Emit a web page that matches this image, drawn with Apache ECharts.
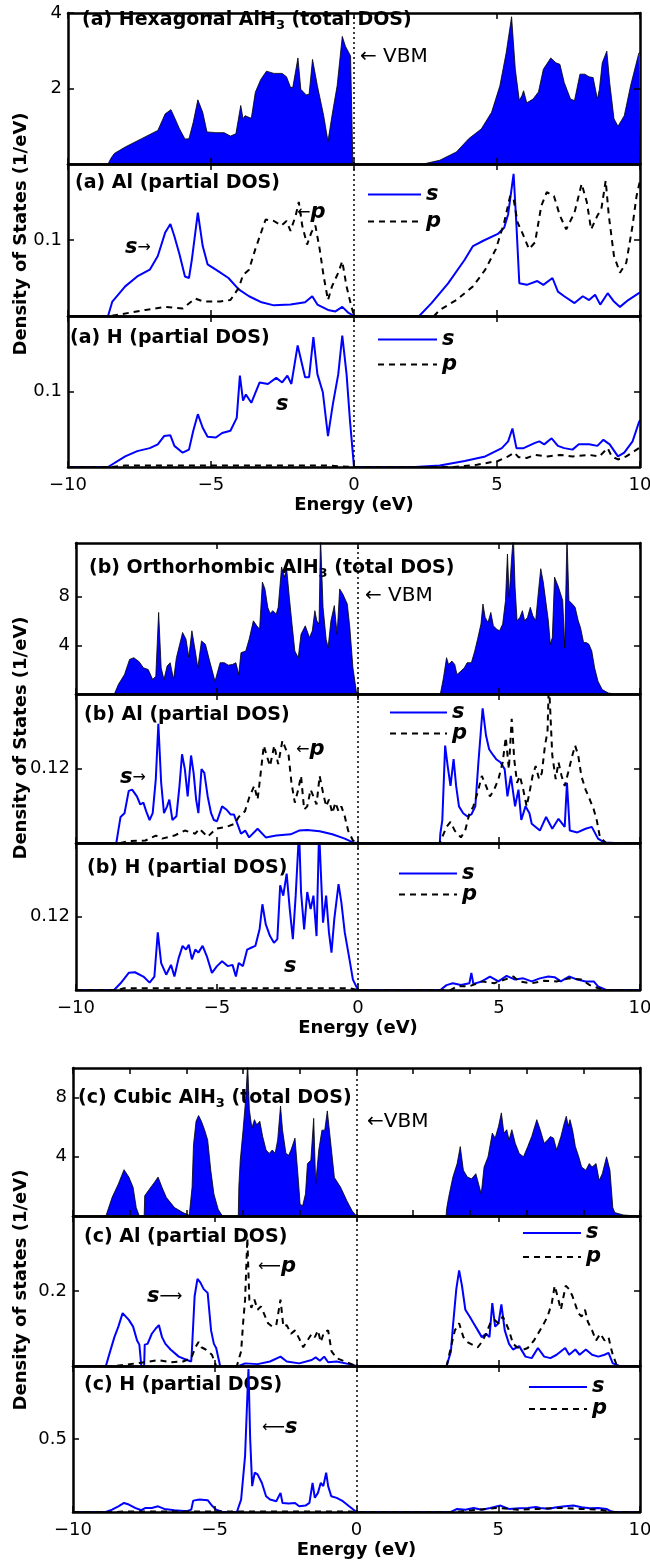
<!DOCTYPE html>
<html>
<head>
<meta charset="utf-8">
<title>AlH3 density of states</title>
<script src="https://cdn.jsdelivr.net/npm/echarts@6/dist/echarts.min.js"></script>
<style>
  html, body { margin: 0; background: #fff; }
  #chart { width: 650px; height: 1566px; }
</style>
</head>
<body>
<div id="chart"></div>
<script>
// [energy (eV), DOS] pairs

// (a) hexagonal
const hexTotal = [[-10,0],[-8.6,0],[-8.5,0.15],[-8.38,0.28],[-8.0,0.45],[-7.43,0.67],[-6.86,0.89],[-6.6,1.33],[-6.4,1.44],[-6.28,1.24],[-6.1,0.93],[-5.91,0.66],[-5.77,0.67],[-5.62,1.11],[-5.46,1.70],[-5.29,1.37],[-5.14,0.85],[-4.83,0.83],[-4.54,0.83],[-4.32,0.74],[-4.13,0.80],[-3.96,1.55],[-3.88,1.20],[-3.81,1.28],[-3.59,1.21],[-3.45,1.90],[-3.26,2.24],[-3.06,2.46],[-2.80,2.40],[-2.51,2.40],[-2.36,2.31],[-2.22,2.03],[-2.14,2.03],[-1.96,2.81],[-1.86,1.98],[-1.67,1.83],[-1.57,1.85],[-1.45,2.77],[-1.28,2.07],[-1.06,1.28],[-0.91,0.60],[-0.77,1.28],[-0.59,2.07],[-0.41,3.38],[-0.30,3.12],[-0.12,2.86],[-0.04,0],[2.42,0],[3.0,0.1],[3.58,0.32],[4.01,0.67],[4.45,0.93],[4.81,1.37],[5.10,2.07],[5.32,2.94],[5.51,3.90],[5.64,2.51],[5.78,1.68],[5.87,1.81],[5.93,1.94],[6.04,1.62],[6.26,1.72],[6.45,1.91],[6.62,2.51],[6.88,2.81],[7.06,2.68],[7.20,2.64],[7.35,2.16],[7.57,1.72],[7.71,1.68],[7.90,2.38],[8.07,2.38],[8.22,2.31],[8.36,2.29],[8.51,1.72],[8.58,1.98],[8.68,2.68],[8.84,2.99],[8.94,2.16],[9.09,1.20],[9.23,1.00],[9.45,1.28],[9.67,2.07],[9.96,2.94],[10,2.95]];
const hexAlS = [[-10,0],[-8.6,0],[-8.45,0.019],[-8.0,0.039],[-7.58,0.052],[-7.14,0.061],[-6.86,0.079],[-6.6,0.110],[-6.42,0.121],[-6.28,0.105],[-6.1,0.081],[-5.91,0.052],[-5.77,0.050],[-5.67,0.074],[-5.46,0.136],[-5.29,0.092],[-5.12,0.068],[-4.75,0.059],[-4.39,0.050],[-4.03,0.035],[-3.67,0.026],[-3.23,0.018],[-2.80,0.014],[-2.22,0.015],[-1.71,0.018],[-1.46,0.026],[-1.28,0.015],[-0.91,0.008],[-0.65,0.006],[-0.41,0.012],[-0.19,0.004],[0,0],[2.28,0],[2.71,0.017],[3.29,0.043],[3.87,0.074],[4.16,0.092],[4.52,0.099],[5.03,0.108],[5.25,0.116],[5.39,0.134],[5.58,0.187],[5.68,0.119],[5.78,0.043],[6.04,0.041],[6.41,0.046],[6.62,0.041],[6.94,0.050],[7.13,0.032],[7.35,0.026],[7.71,0.017],[8.0,0.026],[8.22,0.021],[8.43,0.028],[8.61,0.015],[8.87,0.030],[9.09,0.019],[9.30,0.012],[9.59,0.021],[9.96,0.030],[10,0.031]];
const hexAlP = [[-10,0],[-8.5,0],[-7.29,0.008],[-6.57,0.012],[-5.99,0.010],[-5.55,0.023],[-5.26,0.019],[-4.68,0.019],[-4.32,0.021],[-4.03,0.037],[-3.88,0.054],[-3.67,0.061],[-3.45,0.088],[-3.09,0.127],[-2.80,0.125],[-2.54,0.119],[-2.36,0.125],[-2.22,0.112],[-2.04,0.132],[-1.93,0.150],[-1.81,0.119],[-1.64,0.094],[-1.49,0.110],[-1.35,0.119],[-1.20,0.088],[-1.06,0.052],[-0.91,0.021],[-0.77,0.039],[-0.55,0.057],[-0.41,0.072],[-0.26,0.039],[-0.12,0.017],[0,0],[2.8,0],[3.0,0.008],[3.58,0.021],[4.16,0.039],[4.59,0.061],[4.96,0.088],[5.25,0.123],[5.46,0.158],[5.58,0.154],[5.72,0.123],[5.90,0.108],[6.12,0.088],[6.33,0.097],[6.55,0.145],[6.74,0.163],[6.99,0.158],[7.20,0.132],[7.42,0.114],[7.71,0.136],[7.96,0.174],[8.14,0.150],[8.29,0.114],[8.51,0.132],[8.65,0.141],[8.80,0.178],[8.91,0.132],[9.09,0.079],[9.30,0.057],[9.52,0.070],[9.74,0.119],[9.88,0.158],[10,0.178]];
const hexHS = [[-10,0],[-8.6,0],[-8.0,0.014],[-7.58,0.021],[-7.14,0.025],[-6.86,0.030],[-6.64,0.041],[-6.42,0.042],[-6.28,0.028],[-5.99,0.019],[-5.77,0.023],[-5.62,0.048],[-5.46,0.070],[-5.29,0.052],[-5.12,0.040],[-4.83,0.039],[-4.61,0.045],[-4.32,0.048],[-4.10,0.065],[-3.99,0.121],[-3.88,0.088],[-3.78,0.096],[-3.59,0.085],[-3.30,0.112],[-3.01,0.110],[-2.72,0.118],[-2.51,0.112],[-2.33,0.121],[-2.19,0.110],[-1.97,0.161],[-1.71,0.119],[-1.57,0.119],[-1.42,0.172],[-1.28,0.123],[-1.09,0.099],[-0.91,0.041],[-0.74,0.083],[-0.55,0.123],[-0.41,0.174],[-0.26,0.123],[-0.14,0.061],[0,0],[2.13,0],[3.0,0.002],[3.87,0.008],[4.59,0.014],[5.17,0.025],[5.39,0.034],[5.54,0.051],[5.68,0.025],[5.93,0.025],[6.33,0.032],[6.48,0.034],[6.65,0.030],[6.91,0.038],[7.13,0.028],[7.35,0.025],[7.64,0.023],[7.86,0.030],[8.22,0.030],[8.51,0.028],[8.72,0.036],[8.94,0.030],[9.23,0.014],[9.45,0.019],[9.74,0.034],[9.96,0.059],[10,0.062]];
const hexHP = [[-10,0],[-8.5,0],[-8,0.002],[-1,0.002],[0,0],[3.5,0],[4.30,0.003],[5.03,0.008],[5.39,0.014],[5.61,0.019],[5.75,0.013],[6.04,0.012],[6.33,0.016],[6.77,0.014],[7.20,0.016],[7.64,0.014],[8.22,0.016],[8.58,0.014],[8.87,0.025],[9.01,0.014],[9.23,0.010],[9.52,0.014],[9.96,0.025],[10,0.026]];

// (b) orthorhombic
const orthoTotal = [[-10,0],[-8.64,0],[-8.50,0.77],[-8.28,1.6],[-8.10,2.84],[-7.95,2.98],[-7.76,2.65],[-7.61,2.15],[-7.44,2.01],[-7.28,1.19],[-7.17,1.46],[-7.07,6.70],[-6.98,2.15],[-6.88,1.19],[-6.77,2.29],[-6.66,2.57],[-6.54,1.19],[-6.44,2.98],[-6.22,5.05],[-6.10,4.50],[-6.0,3.03],[-5.89,5.19],[-5.77,3.53],[-5.68,2.15],[-5.55,4.36],[-5.41,4.08],[-5.26,2.70],[-5.07,1.05],[-4.89,2.57],[-4.74,2.57],[-4.60,2.37],[-4.45,2.43],[-4.33,2.57],[-4.23,1.60],[-4.15,3.39],[-3.98,3.53],[-3.86,4.50],[-3.71,6.01],[-3.59,5.60],[-3.49,5.32],[-3.39,9.19],[-3.30,8.63],[-3.20,7.12],[-3.12,6.62],[-3.02,6.84],[-2.90,6.57],[-2.83,7.12],[-2.71,10.43],[-2.61,9.60],[-2.53,10.29],[-2.43,7.81],[-2.34,5.74],[-2.24,3.53],[-2.12,2.98],[-2.02,4.91],[-1.87,5.60],[-1.72,4.63],[-1.62,5.19],[-1.53,6.84],[-1.46,6.01],[-1.38,5.74],[-1.33,13],[-1.24,7.12],[-1.13,4.50],[-1.06,3.81],[-0.96,6.01],[-0.84,7.26],[-0.74,4.91],[-0.65,8.63],[-0.54,8.22],[-0.47,8.36],[-0.38,7.39],[-0.29,5.46],[-0.18,2.15],[-0.06,0.22],[0,0],[2.92,0],[3.03,1.32],[3.14,2.98],[3.21,2.43],[3.33,2.70],[3.43,2.43],[3.51,1.60],[3.65,1.88],[3.77,2.15],[3.87,2.57],[4.02,2.57],[4.14,3.53],[4.24,4.50],[4.36,5.74],[4.43,7.39],[4.51,6.29],[4.61,5.88],[4.71,6.70],[4.80,5.60],[4.92,5.32],[5.02,5.19],[5.13,5.74],[5.23,7.67],[5.30,11.5],[5.36,7.95],[5.45,11.26],[5.51,13],[5.57,8.77],[5.64,6.01],[5.74,6.29],[5.83,6.84],[5.91,6.01],[6.01,6.29],[6.11,7.12],[6.20,6.43],[6.30,6.01],[6.39,8.22],[6.48,10.29],[6.57,9.19],[6.64,9.32],[6.75,6.01],[6.82,4.08],[6.89,4.63],[6.97,9.60],[7.11,8.77],[7.26,7.67],[7.33,3.81],[7.41,13],[7.48,7.67],[7.60,7.39],[7.70,7.12],[7.81,6.01],[7.89,5.46],[8.00,4.22],[8.10,4.22],[8.19,4.08],[8.29,3.53],[8.39,2.15],[8.51,1.05],[8.66,0.36],[8.88,0.08],[9.1,0],[10,0]];
const orthoAlS = [[-10,0],[-8.57,0],[-8.50,0.020],[-8.42,0.042],[-8.28,0.048],[-8.13,0.084],[-8.01,0.086],[-7.84,0.075],[-7.72,0.062],[-7.61,0.065],[-7.51,0.051],[-7.39,0.037],[-7.28,0.048],[-7.17,0.103],[-7.08,0.192],[-6.98,0.097],[-6.88,0.048],[-6.77,0.059],[-6.69,0.070],[-6.58,0.037],[-6.44,0.043],[-6.33,0.092],[-6.24,0.143],[-6.14,0.119],[-6.04,0.075],[-5.92,0.141],[-5.83,0.113],[-5.74,0.070],[-5.66,0.048],[-5.55,0.119],[-5.45,0.113],[-5.33,0.075],[-5.21,0.048],[-5.11,0.037],[-5.0,0.035],[-4.82,0.059],[-4.67,0.054],[-4.52,0.046],[-4.40,0.046],[-4.15,0.015],[-4.0,0.020],[-3.86,0.009],[-3.56,0.023],[-3.27,0.009],[-2.90,0.012],[-2.39,0.014],[-2.09,0.020],[-1.80,0.021],[-1.36,0.019],[-0.91,0.014],[-0.47,0.007],[-0.18,0.001],[0,0],[2.9,0],[2.92,0.015],[2.99,0.037],[3.09,0.157],[3.18,0.124],[3.28,0.092],[3.39,0.135],[3.48,0.092],[3.58,0.059],[3.73,0.048],[3.87,0.043],[4.02,0.046],[4.16,0.059],[4.27,0.130],[4.42,0.217],[4.54,0.173],[4.65,0.151],[4.80,0.141],[4.90,0.135],[5.05,0.130],[5.20,0.119],[5.30,0.075],[5.42,0.108],[5.57,0.059],[5.69,0.086],[5.79,0.037],[5.94,0.059],[6.08,0.048],[6.16,0.031],[6.45,0.020],[6.67,0.042],[6.89,0.023],[7.11,0.039],[7.33,0.026],[7.41,0.097],[7.51,0.020],[7.78,0.017],[8.07,0.023],[8.29,0.026],[8.51,0.007],[8.73,0.001],[9.1,0],[10,0]];
const orthoAlP = [[-10,0],[-8.42,0],[-8.13,0.003],[-7.54,0.004],[-7.17,0.012],[-6.95,0.007],[-6.51,0.012],[-6.14,0.020],[-5.77,0.015],[-5.63,0.023],[-5.33,0.010],[-5.04,0.023],[-4.67,0.026],[-4.37,0.031],[-4.23,0.042],[-4.01,0.051],[-3.86,0.073],[-3.68,0.092],[-3.56,0.070],[-3.45,0.113],[-3.34,0.157],[-3.24,0.141],[-3.12,0.124],[-2.97,0.157],[-2.83,0.127],[-2.68,0.165],[-2.56,0.151],[-2.46,0.141],[-2.36,0.097],[-2.24,0.065],[-2.12,0.086],[-2.02,0.108],[-1.91,0.054],[-1.80,0.059],[-1.68,0.086],[-1.58,0.075],[-1.47,0.062],[-1.36,0.108],[-1.24,0.081],[-1.13,0.059],[-1.03,0.070],[-0.91,0.048],[-0.80,0.065],[-0.69,0.051],[-0.59,0.059],[-0.47,0.043],[-0.35,0.020],[-0.18,0.004],[0,0],[2.9,0],[2.92,0.001],[3.14,0.026],[3.28,0.034],[3.43,0.020],[3.65,0.009],[3.80,0.020],[3.95,0.047],[4.09,0.059],[4.24,0.081],[4.39,0.108],[4.54,0.092],[4.68,0.075],[4.83,0.086],[4.98,0.103],[5.13,0.130],[5.24,0.170],[5.35,0.119],[5.45,0.200],[5.54,0.135],[5.64,0.097],[5.74,0.108],[5.86,0.086],[5.98,0.059],[6.08,0.081],[6.19,0.108],[6.30,0.124],[6.42,0.103],[6.52,0.113],[6.63,0.157],[6.72,0.179],[6.77,0.26],[6.82,0.26],[6.89,0.141],[7.01,0.103],[7.11,0.130],[7.22,0.108],[7.33,0.092],[7.45,0.113],[7.60,0.141],[7.70,0.157],[7.81,0.141],[7.92,0.108],[8.07,0.086],[8.22,0.070],[8.36,0.054],[8.47,0.036],[8.58,0.009],[8.80,0],[10,0]];
const orthoHS = [[-10,0],[-8.65,0],[-8.42,0.011],[-8.13,0.028],[-7.91,0.029],[-7.61,0.022],[-7.39,0.012],[-7.22,0.022],[-7.10,0.094],[-6.98,0.044],[-6.80,0.025],[-6.63,0.041],[-6.51,0.022],[-6.36,0.052],[-6.22,0.072],[-6.10,0.066],[-6.0,0.074],[-5.89,0.050],[-5.77,0.066],[-5.66,0.061],[-5.51,0.072],[-5.36,0.055],[-5.18,0.028],[-5.0,0.039],[-4.82,0.047],[-4.62,0.039],[-4.45,0.041],[-4.33,0.022],[-4.23,0.044],[-4.08,0.039],[-3.93,0.066],[-3.79,0.069],[-3.64,0.072],[-3.49,0.099],[-3.39,0.140],[-3.27,0.107],[-3.12,0.088],[-2.98,0.077],[-2.86,0.083],[-2.76,0.171],[-2.65,0.154],[-2.53,0.190],[-2.42,0.132],[-2.31,0.083],[-2.21,0.154],[-2.09,0.26],[-2.02,0.160],[-1.91,0.099],[-1.80,0.160],[-1.68,0.132],[-1.58,0.154],[-1.47,0.088],[-1.38,0.26],[-1.31,0.26],[-1.24,0.110],[-1.13,0.154],[-1.03,0.094],[-0.94,0.061],[-0.84,0.116],[-0.69,0.173],[-0.59,0.143],[-0.47,0.094],[-0.32,0.055],[-0.18,0.017],[0,0],[2.92,0],[3.14,0.008],[3.36,0.011],[3.65,0.008],[3.95,0.011],[4.02,0.028],[4.09,0.010],[4.39,0.014],[4.68,0.022],[4.98,0.014],[5.27,0.023],[5.57,0.017],[5.86,0.019],[6.16,0.014],[6.45,0.019],[6.75,0.022],[6.97,0.021],[7.19,0.014],[7.48,0.022],[7.78,0.017],[8.07,0.014],[8.36,0.014],[8.51,0.006],[8.80,0],[10,0]];
const orthoHP = [[-10,0],[-8.5,0],[-8.3,0.003],[-0.3,0.003],[0,0],[3.28,0],[3.51,0.006],[3.95,0.006],[4.39,0.014],[4.83,0.011],[5.20,0.017],[5.51,0.022],[5.71,0.014],[6.16,0.011],[6.60,0.015],[7.04,0.014],[7.48,0.019],[7.92,0.017],[8.22,0.008],[8.51,0.003],[8.80,0],[10,0]];

// (c) cubic
const cubicTotal = [[-10,0],[-8.84,0],[-8.62,1.26],[-8.40,2.17],[-8.2,3.13],[-8.03,2.63],[-7.88,1.94],[-7.77,0.57],[-7.66,0],[-7.49,0],[-7.47,1.37],[-7.30,1.83],[-7.12,2.29],[-7.0,2.63],[-6.86,1.94],[-6.71,1.26],[-6.42,0.57],[-6.12,0.23],[-5.90,0.05],[-5.83,0],[-5.81,0],[-5.80,1.94],[-5.75,4.8],[-5.66,6.4],[-5.57,6.79],[-5.47,6.4],[-5.36,5.83],[-5.25,5.14],[-5.14,3.09],[-5.03,1.49],[-4.88,0.46],[-4.73,0],[-4.17,0],[-4.15,2.0],[-4.10,3.77],[-4.0,5.83],[-3.90,8.11],[-3.84,10.3],[-3.78,7.2],[-3.69,5.94],[-3.60,6.51],[-3.52,6.17],[-3.41,6.4],[-3.31,5.37],[-3.19,4.46],[-3.08,4.23],[-2.97,4.46],[-2.87,4.23],[-2.78,5.14],[-2.68,7.43],[-2.61,5.83],[-2.49,4.23],[-2.39,4.11],[-2.31,4.46],[-2.17,5.26],[-2.10,5.14],[-2.05,2.4],[-1.99,0.8],[-1.90,0.69],[-1.80,1.49],[-1.73,3.54],[-1.61,3.77],[-1.51,6.6],[-1.44,2.2],[-1.33,4.46],[-1.22,5.8],[-1.12,5.8],[-1.03,7.1],[-0.92,5.14],[-0.78,2.6],[-0.56,1.94],[-0.34,1.03],[-0.15,0.34],[0,0],[3.16,0],[3.18,0.5],[3.25,1.26],[3.40,2.63],[3.55,3.54],[3.66,4.69],[3.77,3.09],[3.91,2.63],[4.06,2.51],[4.21,2.86],[4.28,2.86],[4.40,1.49],[4.50,3.31],[4.64,4.0],[4.79,5.6],[4.89,5.26],[5.01,6.06],[5.11,6.97],[5.20,5.6],[5.30,5.83],[5.38,5.14],[5.48,5.83],[5.60,4.91],[5.74,4.23],[5.89,4.0],[6.04,4.69],[6.18,5.37],[6.36,6.51],[6.48,5.83],[6.62,4.91],[6.74,5.14],[6.84,5.37],[6.95,5.26],[7.06,4.46],[7.21,5.37],[7.33,6.29],[7.40,6.74],[7.47,6.06],[7.53,6.51],[7.62,5.83],[7.72,4.69],[7.84,4.0],[7.94,3.31],[8.09,3.09],[8.21,3.54],[8.31,3.31],[8.45,3.54],[8.56,2.4],[8.67,2.86],[8.82,4.0],[8.94,3.09],[9.04,0.57],[9.11,0.23],[9.41,0.07],[9.85,0],[10,0]];
const cubicAlS = [[-10,0],[-8.84,0],[-8.69,0.039],[-8.54,0.077],[-8.40,0.105],[-8.25,0.141],[-8.18,0.145],[-8.03,0.123],[-7.88,0.105],[-7.74,0.068],[-7.66,0.057],[-7.59,0],[-7.49,0],[-7.47,0.057],[-7.37,0.059],[-7.22,0.086],[-7.08,0.1],[-6.97,0.109],[-6.86,0.077],[-6.74,0.059],[-6.56,0.044],[-6.27,0.025],[-5.98,0.016],[-5.83,0.012],[-5.80,0.05],[-5.71,0.186],[-5.61,0.232],[-5.51,0.223],[-5.39,0.205],[-5.25,0.195],[-5.13,0.095],[-5.03,0.059],[-4.95,0.048],[-4.81,0],[-4.15,0],[-3.93,0.007],[-3.49,0.005],[-3.05,0.012],[-2.68,0.025],[-2.46,0.012],[-2.02,0.007],[-1.58,0.016],[-1.44,0.023],[-1.29,0.014],[-1.14,0.025],[-1.0,0.010],[-0.70,0.012],[-0.26,0.005],[0,0],[3.18,0],[3.33,0.039],[3.40,0.105],[3.52,0.205],[3.62,0.255],[3.72,0.214],[3.84,0.15],[3.99,0.132],[4.13,0.114],[4.28,0.095],[4.42,0.077],[4.57,0.086],[4.69,0.077],[4.79,0.168],[4.89,0.105],[5.01,0.114],[5.11,0.164],[5.23,0.095],[5.38,0.059],[5.52,0.044],[5.74,0.053],[5.96,0.025],[6.18,0.021],[6.40,0.048],[6.62,0.025],[6.84,0.021],[7.06,0.030],[7.36,0.048],[7.50,0.030],[7.72,0.044],[7.87,0.030],[8.09,0.044],[8.31,0.030],[8.53,0.025],[8.75,0.030],[8.89,0.035],[9.04,0.007],[9.26,0.001],[10,0]];
const cubicAlP = [[-10,0],[-8.5,0],[-8.18,0.003],[-7.30,0.012],[-7.0,0.016],[-6.56,0.010],[-6.12,0.012],[-5.83,0.021],[-5.68,0.05],[-5.57,0.064],[-5.47,0.05],[-5.32,0.044],[-5.10,0.030],[-4.95,0],[-4.22,0],[-4.07,0.039],[-4.0,0.114],[-3.93,0.177],[-3.85,0.341],[-3.78,0.177],[-3.71,0.155],[-3.60,0.177],[-3.49,0.15],[-3.37,0.159],[-3.27,0.141],[-3.12,0.114],[-2.97,0.105],[-2.83,0.109],[-2.68,0.177],[-2.58,0.105],[-2.46,0.109],[-2.31,0.086],[-2.17,0.095],[-2.02,0.073],[-1.88,0.05],[-1.73,0.068],[-1.58,0.086],[-1.47,0.077],[-1.36,0.095],[-1.26,0.064],[-1.14,0.091],[-1.0,0.095],[-0.88,0.039],[-0.70,0.021],[-0.41,0.012],[0,0],[3.18,0],[3.33,0.05],[3.47,0.095],[3.62,0.114],[3.77,0.077],[3.91,0.064],[4.13,0.055],[4.28,0.05],[4.42,0.064],[4.57,0.086],[4.72,0.114],[4.86,0.123],[5.01,0.114],[5.16,0.132],[5.27,0.114],[5.38,0.095],[5.52,0.059],[5.67,0.05],[5.89,0.044],[6.04,0.048],[6.26,0.068],[6.40,0.086],[6.55,0.105],[6.74,0.132],[6.89,0.168],[6.99,0.214],[7.09,0.186],[7.21,0.15],[7.28,0.177],[7.38,0.214],[7.50,0.205],[7.62,0.186],[7.72,0.164],[7.82,0.141],[7.94,0.132],[8.06,0.15],[8.16,0.118],[8.31,0.095],[8.45,0.068],[8.60,0.086],[8.75,0.068],[8.89,0.077],[8.97,0.05],[9.04,0.03],[9.19,0],[10,0]];
const cubicHS = [[-10,0],[-8.84,0],[-8.62,0.016],[-8.40,0.039],[-8.20,0.062],[-8.03,0.051],[-7.81,0.028],[-7.59,0.012],[-7.52,0],[-7.44,0.028],[-7.22,0.028],[-7.0,0.039],[-6.78,0.021],[-6.42,0.012],[-5.98,0.005],[-5.83,0.016],[-5.76,0.078],[-5.54,0.085],[-5.25,0.081],[-5.10,0.044],[-4.95,0.016],[-4.73,0],[-4.22,0],[-4.07,0.085],[-3.93,0.385],[-3.84,0.846],[-3.81,0.98],[-3.75,0.5],[-3.68,0.177],[-3.59,0.27],[-3.49,0.258],[-3.34,0.2],[-3.19,0.108],[-3.05,0.085],[-2.83,0.074],[-2.68,0.131],[-2.61,0.062],[-2.39,0.058],[-2.17,0.062],[-2.02,0.039],[-1.80,0.044],[-1.66,0.062],[-1.55,0.2],[-1.47,0.097],[-1.36,0.131],[-1.26,0.2],[-1.17,0.177],[-1.07,0.27],[-1.0,0.177],[-0.89,0.108],[-0.70,0.097],[-0.48,0.074],[-0.26,0.039],[0,0],[3.33,0],[3.55,0.021],[3.84,0.016],[4.13,0.028],[4.42,0.016],[4.72,0.028],[5.08,0.044],[5.38,0.021],[5.74,0.025],[6.04,0.028],[6.33,0.035],[6.48,0.028],[6.77,0.023],[7.06,0.032],[7.36,0.039],[7.65,0.044],[7.94,0.032],[8.23,0.025],[8.53,0.028],[8.82,0.021],[8.97,0.005],[9.1,0],[10,0]];
const cubicHP = [[-10,0],[-8.5,0],[-8.2,0.003],[-0.3,0.003],[0,0],[3.5,0],[4.25,0.016],[4.98,0.028],[5.7,0.016],[6.43,0.021],[7.16,0.028],[7.9,0.021],[8.6,0.016],[8.97,0],[10,0]];

// y tick values per panel (total, Al, H) for each group
const ticksHex = [[2, 4], [0.1], [0.1]];
const ticksOrtho = [[4, 8], [0.12], [0.12]];
const ticksCubic = [[4, 8], [0.2], [0.5]];

const FONT = 'DejaVu Sans';
const BLUE = '#0000ff';

const panels = [
  { left: 68, top: 13,   height: 151, yMax: 4,    ticks: ticksHex[0],   step: 5, total: hexTotal },
  { left: 68, top: 164,  height: 152, yMax: 0.2,  ticks: ticksHex[1],   step: 5, s: hexAlS, p: hexAlP },
  { left: 68, top: 316,  height: 151, yMax: 0.2,  ticks: ticksHex[2],   step: 5, s: hexHS, p: hexHP, last: true },
  { left: 76, top: 543,  height: 151, yMax: 12.4, ticks: ticksOrtho[0], step: 5, total: orthoTotal },
  { left: 76, top: 694,  height: 149, yMax: 0.24, ticks: ticksOrtho[1], step: 5, s: orthoAlS, p: orthoAlP },
  { left: 76, top: 843,  height: 147, yMax: 0.24, ticks: ticksOrtho[2], step: 5, s: orthoHS, p: orthoHP, last: true },
  { left: 73, top: 1068, height: 148, yMax: 10,   ticks: ticksCubic[0], step: 2, total: cubicTotal },
  { left: 73, top: 1216, height: 150, yMax: 0.4,  ticks: ticksCubic[1], step: 5, s: cubicAlS, p: cubicAlP },
  { left: 73, top: 1366, height: 146, yMax: 1,    ticks: ticksCubic[2], step: 5, s: cubicHS, p: cubicHP, last: true },
];

// each panel is boxed: axis lines stay on the grid edges, not at zero
const frame = { show: true, onZero: false, lineStyle: { color: '#000', width: 2.5 } };
const tick = { show: true, inside: true, length: 6, lineStyle: { color: '#000', width: 1.5 } };
const minus = v => (v < 0 ? '\u2212' + (-v) : String(v));

const zeroLine = {
  silent: true,
  symbol: 'none',
  label: { show: false },
  lineStyle: { color: '#000', type: [2, 3], width: 1.5 },
  data: [{ xAxis: 0 }],
};

const grid = [], xAxis = [], yAxis = [], series = [];

panels.forEach((pn, i) => {
  grid.push({ left: pn.left, right: 10, top: pn.top, height: pn.height, outerBoundsMode: 'none' });

  ['bottom', 'top'].forEach(pos => {
    const labelled = pn.last && pos === 'bottom';
    xAxis.push({
      gridIndex: i, type: 'value', position: pos, min: -10, max: 10, interval: pn.step, z: 5,
      axisLine: frame, axisTick: tick, splitLine: { show: false },
      axisLabel: labelled
        ? { show: true, margin: 9, color: '#000', fontSize: 18, fontFamily: FONT, formatter: minus }
        : { show: false },
      name: labelled ? 'Energy (eV)' : '',
      nameLocation: 'middle', nameGap: 29,
      nameTextStyle: { color: '#000', fontSize: 18, fontWeight: 'bold', fontFamily: FONT },
    });
  });

  ['left', 'right'].forEach(pos => {
    yAxis.push({
      gridIndex: i, type: 'value', position: pos, min: 0, max: pn.yMax, z: 5,
      axisLine: frame, splitLine: { show: false },
      axisTick: Object.assign({}, tick, { customValues: pn.ticks }),
      axisLabel: pos === 'left'
        ? { show: true, customValues: pn.ticks, margin: 6, color: '#000', fontSize: 18, fontFamily: FONT }
        : { show: false },
    });
  });

  const base = { type: 'line', xAxisIndex: 2 * i, yAxisIndex: 2 * i, symbol: 'none', silent: true };
  if (pn.total) {
    series.push(Object.assign({}, base, {
      name: 'total', data: pn.total,
      lineStyle: { color: '#000', width: 0.8 },
      areaStyle: { color: BLUE, opacity: 1 },
      markLine: zeroLine,
    }));
  } else {
    series.push(Object.assign({}, base, {
      name: 's', data: pn.s,
      lineStyle: { color: BLUE, width: 2 },
      markLine: zeroLine,
    }));
    series.push(Object.assign({}, base, {
      name: 'p', data: pn.p,
      lineStyle: { color: '#000', width: 2, type: [6, 5] },
    }));
  }
});

// legend boxes: left, top, line length, row height
const legendSpots = [
  [367, 181, 53, 27], [377, 327, 59, 25],
  [389, 702, 57, 14], [398, 863, 58, 18],
  [522, 1221, 58, 24], [528, 1376, 58, 22],
];
const legend = legendSpots.map(([left, top, w, row]) => ({
  data: ['s', 'p'], orient: 'vertical', left, top, padding: 0, itemGap: 0,
  itemWidth: w, itemHeight: 8, selectedMode: false,
  itemStyle: { opacity: 0 },
  textStyle: { color: '#000', fontFamily: FONT, fontSize: 21, fontWeight: 'bold', fontStyle: 'italic', lineHeight: row },
}));

const richStyle = {
  sub: { fontSize: 13, fontWeight: 'bold', fontFamily: FONT, padding: [12, 0, 0, 0] },
  i: { fontSize: 21, fontWeight: 'bold', fontStyle: 'italic', fontFamily: FONT },
  a: { fontSize: 16, fontFamily: FONT },
};
const text = (x, y, str, size, weight, extra) => Object.assign({
  type: 'text', x, y, silent: true,
  style: { text: str, fill: '#000', fontFamily: FONT, fontSize: size, fontWeight: weight, rich: richStyle, verticalAlign: 'middle' },
}, extra || {});

const graphic = [
  text(82, 20, '(a) Hexagonal AlH{sub|3} (total DOS)', 19, 'bold'),
  text(75, 183, '(a) Al (partial DOS)', 19, 'bold'),
  text(70, 338, '(a) H (partial DOS)', 19, 'bold'),
  text(89, 568, '(b) Orthorhombic AlH{sub|3} (total DOS)', 19, 'bold'),
  text(84, 715, '(b) Al (partial DOS)', 19, 'bold'),
  text(87, 868, '(b) H (partial DOS)', 19, 'bold'),
  text(78, 1098, '(c) Cubic AlH{sub|3} (total DOS)', 19, 'bold'),
  text(84, 1237, '(c) Al (partial DOS)', 19, 'bold'),
  text(84, 1385, '(c) H (partial DOS)', 19, 'bold'),

  text(360, 57, '\u2190 VBM', 20, 'normal'),
  text(365, 596, '\u2190 VBM', 20, 'normal'),
  text(367, 1122, '\u2190VBM', 20, 'normal'),

  text(125, 248, '{i|s}{a|\u2192}', 16, 'normal'),
  text(297, 213, '{a|\u2190}{i|p}', 16, 'normal'),
  text(276, 405, '{i|s}', 16, 'normal'),
  text(120, 778, '{i|s}{a|\u2192}', 16, 'normal'),
  text(296, 750, '{a|\u2190}{i|p}', 16, 'normal'),
  text(284, 967, '{i|s}', 16, 'normal'),
  text(147, 1297, '{i|s}{a|\u27f6}', 16, 'normal'),
  text(258, 1267, '{a|\u27f5}{i|p}', 16, 'normal'),
  text(262, 1428, '{a|\u27f5}{i|s}', 16, 'normal'),

  text(21, 234, 'Density of States (1/eV)', 18, 'bold', { rotation: Math.PI / 2 }),
  text(21, 738, 'Density of States (1/eV)', 18, 'bold', { rotation: Math.PI / 2 }),
  text(21, 1290, 'Density of states (1/eV)', 18, 'bold', { rotation: Math.PI / 2 }),
];
// rotated titles are centred on their point
graphic.slice(-3).forEach(g => { g.style.align = 'center'; });

const chart = echarts.init(document.getElementById('chart'), null, { renderer: 'canvas' });
chart.setOption({
  animation: false,
  backgroundColor: '#fff',
  textStyle: { fontFamily: FONT },
  grid, xAxis, yAxis, series, legend, graphic,
});
</script>
</body>
</html>
